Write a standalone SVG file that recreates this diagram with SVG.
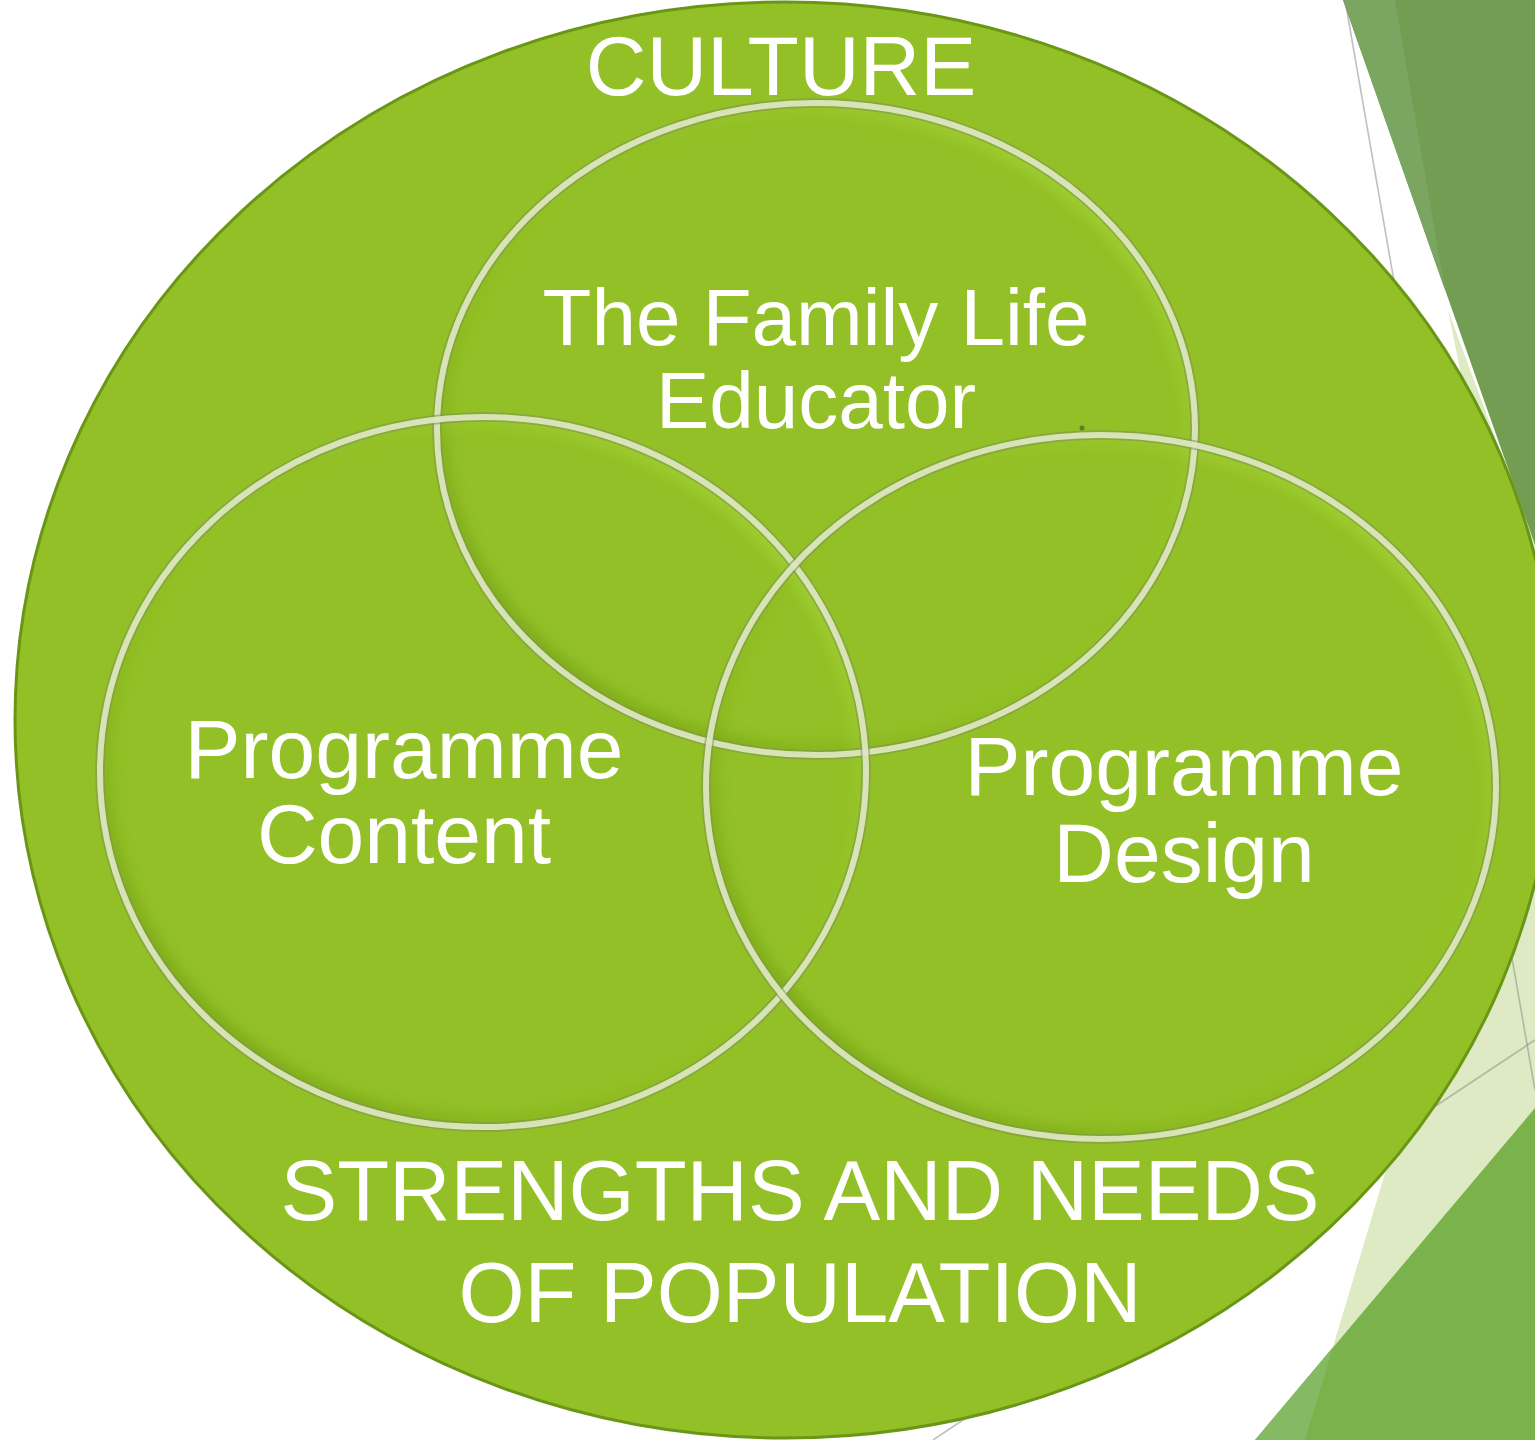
<svg xmlns="http://www.w3.org/2000/svg" width="1535" height="1440" viewBox="0 0 1535 1440">
  <style>
    .label { font-family: "Liberation Sans", Arial, sans-serif; fill: #ffffff; text-anchor: middle; }
    .big { font-size: 84px; }
    .mid { font-size: 80px; }
    .ring-edge { fill: none; stroke: #7d9250; stroke-opacity: 0.55; stroke-width: 9.5; }
    .ring { fill: none; stroke: #e6efcd; stroke-opacity: 0.85; stroke-width: 6; }
    .bevel { fill: none; stroke: url(#bevel); stroke-width: 26; filter: url(#soft); }
    .thin-line { stroke: #8c8c8c; stroke-opacity: 0.55; stroke-width: 1.6; fill: none; }
  </style>
  <defs>
    <filter id="soft" x="-10%" y="-10%" width="120%" height="120%">
      <feGaussianBlur stdDeviation="6"/>
    </filter>
    <linearGradient id="bevel" x1="1" y1="0" x2="0" y2="1">
      <stop offset="0" stop-color="#bff04a" stop-opacity="0.6"/>
      <stop offset="0.45" stop-color="#92c026" stop-opacity="0"/>
      <stop offset="1" stop-color="#3f6a00" stop-opacity="0.4"/>
    </linearGradient>
    <clipPath id="clip-educator"><ellipse cx="816" cy="429" rx="379" ry="326"/></clipPath>
    <clipPath id="clip-content"><ellipse cx="483" cy="772" rx="383" ry="355"/></clipPath>
    <clipPath id="clip-design"><ellipse cx="1101" cy="787" rx="395" ry="352"/></clipPath>
  </defs>

  <rect width="1535" height="1440" fill="#ffffff"/>

  <!-- corner decoration -->
  <g id="decor">
    <polygon points="1448,310 1535,545 1535,1440 1305,1440 1527,700" fill="#ddeac3"/>
    <polygon points="1343,0 1535,0 1535,545" fill="#729d52"/>
    <polygon points="1343,0 1395,0 1445,290" fill="#7aa662"/>
    <polygon points="1255,1440 1535,1108 1535,1440" fill="#7ab34c"/>
    <polygon points="1255,1440 1305,1440 1333,1347" fill="#85b963"/>
    <line class="thin-line" x1="1345" y1="0" x2="1535" y2="1090"/>
    <line class="thin-line" x1="1535" y1="1040" x2="933" y2="1440"/>
  </g>

  <!-- outer field -->
  <g id="population">
    <ellipse cx="785" cy="720" rx="770" ry="718" fill="#92c026" stroke="#6a9616" stroke-width="3"/>
    <text class="label" x="781" y="95" font-size="84">CULTURE</text>
    <text class="label" x="800" y="1220" font-size="85">STRENGTHS AND NEEDS</text>
    <text class="label" x="800" y="1322" font-size="85">OF POPULATION</text>
  </g>

  <!-- inner shading of the three sets -->
  <g id="shading">
    <g clip-path="url(#clip-educator)"><ellipse class="bevel" cx="816" cy="429" rx="379" ry="326"/></g>
    <g clip-path="url(#clip-content)"><ellipse class="bevel" cx="483" cy="772" rx="383" ry="355"/></g>
    <g clip-path="url(#clip-design)"><ellipse class="bevel" cx="1101" cy="787" rx="395" ry="352"/></g>
  </g>

  <g id="educator">
    <ellipse class="ring-edge" cx="816" cy="429" rx="379" ry="326"/>
    <ellipse class="ring" cx="816" cy="429" rx="379" ry="326"/>
    <text class="label mid" x="816" y="345">The Family Life</text>
    <text class="label mid" x="816" y="428">Educator</text>
  </g>

  <g id="content">
    <ellipse class="ring-edge" cx="483" cy="772" rx="383" ry="355"/>
    <ellipse class="ring" cx="483" cy="772" rx="383" ry="355"/>
    <text class="label big" x="404" y="778">Programme</text>
    <text class="label big" x="404" y="863">Content</text>
  </g>

  <g id="design">
    <ellipse class="ring-edge" cx="1101" cy="787" rx="395" ry="352"/>
    <ellipse class="ring" cx="1101" cy="787" rx="395" ry="352"/>
    <text class="label big" x="1184" y="795">Programme</text>
    <text class="label big" x="1184" y="882">Design</text>
  </g>

  <circle cx="1082" cy="428" r="2.5" fill="#5d7d2c"/>
</svg>
